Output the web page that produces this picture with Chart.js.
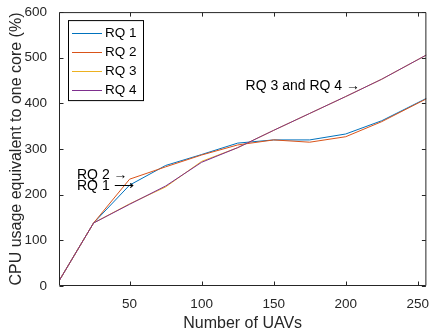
<!DOCTYPE html>
<html>
<head>
<meta charset="utf-8">
<script src="https://cdn.jsdelivr.net/npm/chart.js@4.4.1/dist/chart.umd.min.js"></script>
<style>
  html, body { margin: 0; padding: 0; background: #fff; }
  #wrap { width: 431px; height: 333px; }
</style>
</head>
<body>
<div id="wrap"><canvas id="myChart" width="431" height="333"></canvas></div>
<script>
// data
const uavs = [1, 25, 50, 75, 100, 125, 150, 175, 200, 225, 256];
const rq1 = [11, 138, 221, 264, 288, 313, 320, 320, 333, 362, 411];
const rq2 = [11, 138, 234, 261, 287, 309, 320, 315, 327, 360, 410];
const rq3 = [11, 138, 180, 217, 273, 303, 341, 378, 415, 453, 506];
const rq4 = [11, 138, 179, 219, 271, 303, 341, 378, 415, 453, 506];
const seriesNames = ["RQ 1", "RQ 2", "RQ 3", "RQ 4"];
const seriesColors = ["#0072BD", "#D95319", "#EDB120", "#7E2F8E"];
const xTicks = [50, 100, 150, 200, 250];
const yTicks = [0, 100, 200, 300, 400, 500, 600];

// text notes, placed in data units
const notes = [
    { text: "RQ 2 \u2192", x: 13.5, y: 243 },
    { text: "RQ 1 \u27F6", x: 13.5, y: 219 },
    { text: "RQ 3 and RQ 4 \u2192", x: 130.5, y: 438 }
];

const FONT = "'Liberation Sans', Arial, Helvetica, sans-serif";
const INK = "#262626";

function pairs(ys) {
    return uavs.map((x, i) => ({ x: x, y: ys[i] }));
}

const boxPlugin = {
    id: "boxPlugin",
    afterDraw(chart) {
        const ctx = chart.ctx;
        const a = chart.chartArea;
        const xs = chart.scales.x;
        const ys = chart.scales.y;
        const L = a.left + 0.5, R = a.right - 0.5, T = a.top + 0.5, B = a.bottom - 0.5;
        ctx.save();
        ctx.strokeStyle = INK;
        ctx.lineWidth = 1;
        ctx.beginPath();
        ctx.rect(L, T, R - L, B - T);
        // inward ticks
        xTicks.forEach(v => {
            const px = Math.round(xs.getPixelForValue(v)) + 0.5;
            ctx.moveTo(px, B); ctx.lineTo(px, B - 4);
            ctx.moveTo(px, T); ctx.lineTo(px, T + 4);
        });
        yTicks.forEach(v => {
            const py = Math.round(ys.getPixelForValue(v)) + 0.5;
            ctx.moveTo(L, py); ctx.lineTo(L + 4, py);
            ctx.moveTo(R, py); ctx.lineTo(R - 4, py);
        });
        ctx.stroke();

        // notes
        ctx.fillStyle = "#000";
        ctx.font = "14px " + FONT;
        ctx.textBaseline = "middle";
        ctx.textAlign = "left";
        notes.forEach(n => {
            ctx.fillText(n.text, xs.getPixelForValue(n.x), ys.getPixelForValue(n.y));
        });

        // legend
        const lx = a.left + 9, ly = a.top + 8, lw = 75, lh = 80;
        ctx.fillStyle = "#fff";
        ctx.fillRect(lx, ly, lw, lh);
        ctx.strokeStyle = "#000";
        ctx.strokeRect(lx + 0.5, ly + 0.5, lw, lh);
        ctx.font = "13.5px " + FONT;
        chart.data.datasets.forEach((ds, i) => {
            const cy = ly + 12.5 + i * 19;
            ctx.strokeStyle = ds.borderColor;
            ctx.beginPath();
            ctx.moveTo(lx + 4, Math.round(cy) + 0.5);
            ctx.lineTo(lx + 34, Math.round(cy) + 0.5);
            ctx.stroke();
            ctx.fillStyle = "#000";
            ctx.fillText(ds.label, lx + 37, cy + 1);
        });
        ctx.restore();
    }
};

const myChart = new Chart(document.getElementById("myChart").getContext("2d"), {
    type: "line",
    data: {
        datasets: [rq1, rq2, rq3, rq4].map((ys, i) => ({
            label: seriesNames[i],
            data: pairs(ys),
            borderColor: seriesColors[i],
            backgroundColor: seriesColors[i],
            borderWidth: 1,
            pointRadius: 0,
            tension: 0,
            fill: false,
            order: 3 - i
        }))
    },
    options: {
        responsive: false,
        animation: false,
        events: [],
        layout: { padding: { left: 0, top: 9, right: 0, bottom: 0 } },
        plugins: { legend: { display: false }, tooltip: { enabled: false } },
        scales: {
            x: {
                type: "linear",
                min: 1,
                max: 256,
                afterBuildTicks: scale => { scale.ticks = xTicks.map(v => ({ value: v })); },
                afterFit: scale => { scale.height = 47; },
                grid: { display: false },
                border: { display: false },
                ticks: { color: INK, font: { family: FONT, size: 13.5 }, padding: 2, maxRotation: 0, autoSkip: false },
                title: { display: true, text: "Number of UAVs", color: INK, font: { family: FONT, size: 16 }, padding: { top: 0, bottom: 0 } }
            },
            y: {
                min: 0,
                max: 600,
                afterBuildTicks: scale => { scale.ticks = yTicks.map(v => ({ value: v })); },
                afterFit: scale => { scale.width = 59; },
                grid: { display: false },
                border: { display: false },
                ticks: { color: INK, font: { family: FONT, size: 13.5 }, padding: 4 },
                title: { display: true, text: "CPU usage equivalent to one core (%)", color: INK, font: { family: FONT, size: 16 }, padding: { top: 7, bottom: 0 } }
            }
        }
    },
    plugins: [boxPlugin]
});
</script>
</body>
</html>
